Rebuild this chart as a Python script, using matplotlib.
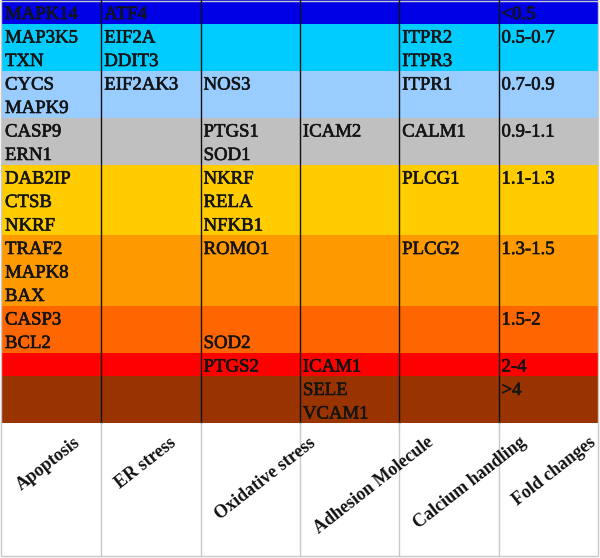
import matplotlib.pyplot as plt
import matplotlib.patheffects as pe
from matplotlib.patches import Rectangle

# fold-change bins, top to bottom, with their row colours
fold_labels = ["<0.5", "0.5-0.7", "0.7-0.9", "0.9-1.1", "1.1-1.3",
               "1.3-1.5", "1.5-2", "2-4", ">4"]
row_colors = ["#0000E6", "#00CCFF", "#99CCFF", "#C0C0C0", "#FFCC00",
              "#FF9900", "#FF6600", "#FF0000", "#993300"]

categories = ["Apoptosis", "ER stress", "Oxidative stress",
              "Adhesion Molecule", "Calcium handling", "Fold changes"]

# genes per fold-change bin for each category
apoptosis = [["MAPK14"], ["MAP3K5", "TXN"], ["CYCS", "MAPK9"], ["CASP9", "ERN1"],
             ["DAB2IP", "CTSB", "NKRF"], ["TRAF2", "MAPK8", "BAX"],
             ["CASP3", "BCL2"], [], []]
er_stress = [["ATF4"], ["EIF2A", "DDIT3"], ["EIF2AK3"], [], [], [], [], [], []]
oxidative = [[], [], ["NOS3"], ["PTGS1", "SOD1"], ["NKRF", "RELA", "NFKB1"],
             ["ROMO1"], ["", "SOD2"], ["PTGS2"], []]
adhesion = [[], [], [], ["ICAM2"], [], [], [], ["ICAM1"], ["SELE", "VCAM1"]]
calcium = [[], ["ITPR2", "ITPR3"], ["ITPR1"], ["CALM1"], ["PLCG1"], ["PLCG2"],
           [], [], []]
fold_col = [[f] for f in fold_labels]

columns = [apoptosis, er_stress, oxidative, adhesion, calcium, fold_col]

W, H = 600, 558
line_h = 23.5
x0, col_w = 2, 99.3

fig = plt.figure(figsize=(6, 5.58), dpi=100)
ax = fig.add_axes([0, 0, 1, 1])
ax.set_xlim(0, W)
ax.set_ylim(H, 0)
ax.axis("off")

# regular serif, slightly thickened to match the heavy look of the original
thick = [pe.withStroke(linewidth=0.45, foreground="#141414")]
font = dict(family="Liberation Serif", fontsize=13.5, color="#141414",
            path_effects=thick)

n_lines = [max(len(c[i]) for c in columns) for i in range(len(fold_labels))]
x_right = x0 + col_w * len(columns)

y = 0
for i, n in enumerate(n_lines):
    h = n * line_h
    ax.add_patch(Rectangle((x0, y), x_right - x0, h, color=row_colors[i], lw=0))
    for j, col in enumerate(columns):
        for k, gene in enumerate(col[i]):
            ax.text(x0 + j * col_w + 3, y + k * line_h + 19, gene,
                    va="baseline", ha="left", **font)
    y += h
table_bottom = y

# column separators
for j in range(1, len(columns)):
    xc = x0 + j * col_w
    ax.plot([xc, xc], [0, table_bottom], color="#111111", lw=1)
    ax.plot([xc, xc], [table_bottom, H - 2], color="#C8C8C8", lw=1)

# outer border
ax.add_patch(Rectangle((x0 - 1, 0.5), x_right - x0 + 1, H - 2.5, fill=False,
                       ec="#C8C8C8", lw=1))

# rotated headers
for j, name in enumerate(categories):
    ax.text(x0 + j * col_w + 11, table_bottom + 11, name, rotation=38,
            ha="left", va="top", fontweight="bold", family="Liberation Serif",
            fontsize=13, color="#111111")

fig.savefig("out.png", dpi=100)
